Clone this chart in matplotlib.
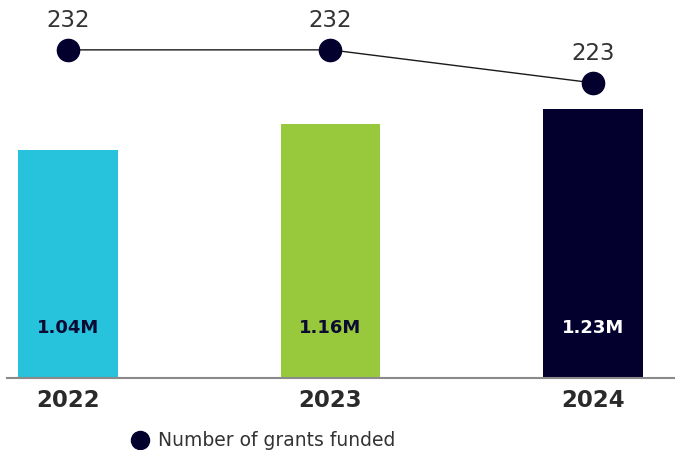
import numpy as np
import matplotlib
matplotlib.use("Agg")
import matplotlib.pyplot as plt
from matplotlib.lines import Line2D

plt.rcParams['font.family'] = ['DejaVu Sans']

years = ['2022', '2023', '2024']
amounts = [1.04, 1.16, 1.23]          # millions
amount_labels = ['1.04M', '1.16M', '1.23M']
grants = [232, 232, 223]

bar_colors = ['#27c2db', '#98c93c', '#03002e']
label_colors = ['#0b0a33', '#0b0a33', '#ffffff']
navy = '#03002e'

fig = plt.figure(figsize=(6.75, 4.5), dpi=100)
ax = fig.add_axes([7 / 675, 72 / 450, 668 / 675, 378 / 450])

x = np.arange(len(years))
ax.bar(x, amounts, width=0.38, color=bar_colors, zorder=2)
ax.set_xlim(-0.232, 2.312)
ax.set_ylim(0, 1.726)

for xi, lab, c in zip(x, amount_labels, label_colors):
    ax.annotate(lab, (xi, 0), xytext=(0, 36), textcoords='offset points',
                ha='center', va='center', fontsize=13, fontweight='bold', color=c)

ax.set_xticks(x)
ax.set_xticklabels(years, fontsize=16.5, fontweight='bold', color='#2a2a2a')
ax.tick_params(axis='x', length=0, pad=8)
ax.set_yticks([])
for s in ['top', 'right', 'left']:
    ax.spines[s].set_visible(False)
ax.spines['bottom'].set_color('#8a8a8a')
ax.spines['bottom'].set_linewidth(1.5)
ax.patch.set_alpha(0)

ax2 = ax.twinx()
ax2.set_ylim(142.5, 245.6)
ax2.plot(x, grants, color='#1a1a1a', linewidth=1, zorder=3)
ax2.plot(x, grants, 'o', color=navy, markersize=16, zorder=4)
for xi, g in zip(x, grants):
    ax2.annotate(str(g), (xi, g), xytext=(0, 21), textcoords='offset points',
                 ha='center', va='center', fontsize=16.5, color='#333333')
ax2.set_yticks([])
for s in ['top', 'right', 'left', 'bottom']:
    ax2.spines[s].set_visible(False)

handle = Line2D([], [], marker='o', linestyle='none', color=navy, markersize=13)
fig.legend([handle], ['Number of grants funded'], loc='center left',
           bbox_to_anchor=(104 / 675, 1 - 441 / 450), frameon=False,
           handletextpad=0.0, fontsize=13.5, labelcolor='#333333')

fig.savefig('out.png', dpi=100)
